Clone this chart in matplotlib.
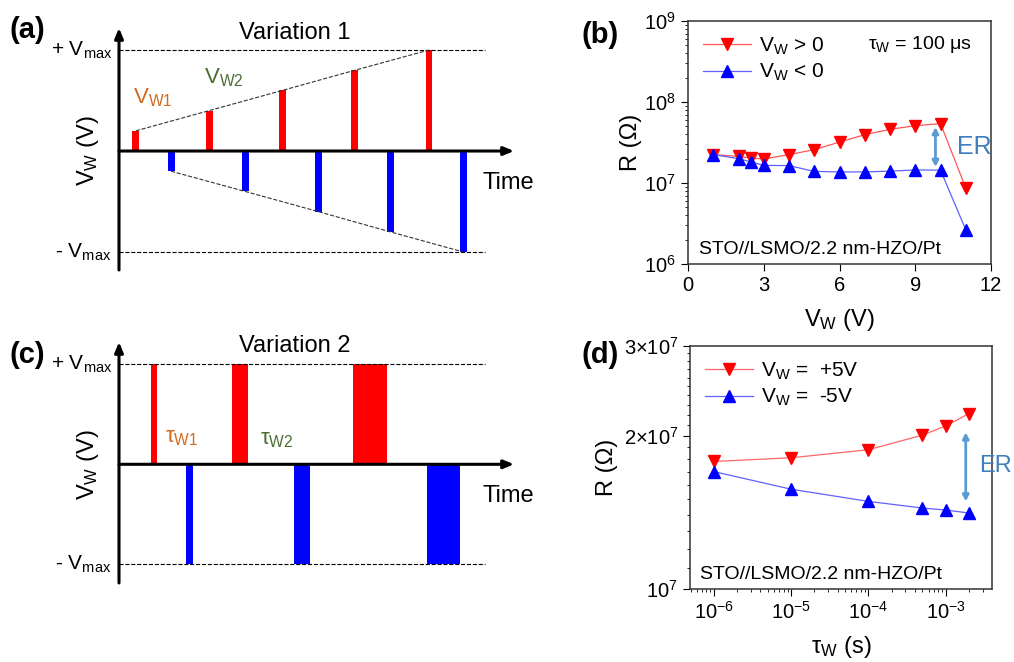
import numpy as np
import matplotlib.pyplot as plt
from matplotlib.ticker import FixedLocator, FixedFormatter, NullFormatter

plt.rcParams['font.family'] = ['Liberation Sans', 'DejaVu Sans']
plt.rcParams['mathtext.default'] = 'regular'

# ---- schematic (a): pulse amplitudes (in units of Vmax) ----
a_red_t = [0.46, 2.46, 4.46, 6.44, 8.46]
a_red_amp = [0.2, 0.4, 0.6, 0.8, 1.0]
a_blue_t = [1.42, 3.44, 5.44, 7.40, 9.40]
a_blue_amp = [0.2, 0.4, 0.6, 0.8, 1.0]

# ---- schematic (c): pulse start and width ----
c_red_t = [0.865, 3.09, 6.39]
c_red_w = [0.18, 0.44, 0.93]
c_blue_t = [1.82, 4.78, 8.40]
c_blue_w = [0.20, 0.44, 0.91]

# ---- (b) R vs Vw ----
vw = [1, 2, 2.5, 3, 4, 5, 6, 7, 8, 9, 10, 11]
r_pos = [2.24e7, 2.13e7, 2.03e7, 1.98e7, 2.24e7, 2.58e7, 3.2e7, 3.95e7, 4.6e7, 5.1e7, 5.4e7, 8.7e6]
r_neg = [2.24e7, 2.0e7, 1.82e7, 1.65e7, 1.64e7, 1.39e7, 1.37e7, 1.37e7, 1.40e7, 1.45e7, 1.44e7, 2.65e6]

# ---- (d) R vs tau_w ----
tau = [1e-6, 1e-5, 1e-4, 5e-4, 1e-3, 2e-3]
r_p5 = [1.78e7, 1.81e7, 1.877e7, 2.005e7, 2.09e7, 2.21e7]
r_m5 = [1.70e7, 1.57e7, 1.486e7, 1.442e7, 1.429e7, 1.41e7]

W, H = 1014, 662
fig = plt.figure(figsize=(W / 100, H / 100), dpi=100)

def px_axes(l, t, r, b):
    return fig.add_axes([l / W, 1 - b / H, (r - l) / W, (b - t) / H])

orange = '#D2691E'
green = '#4B6E32'
er_col = '#3F7FBF'
arr_col = '#5B9BD5'

def schematic(ax, ylim, title, xtitle_y):
    ax.set_xlim(0, 10.78)
    ax.set_ylim(*ylim)
    ax.axis('off')
    ax.annotate('', xy=(10.78, 0), xytext=(0, 0),
                arrowprops=dict(arrowstyle='-|>,head_length=0.6,head_width=0.25', lw=2.2, color='k',
                                shrinkA=0, shrinkB=0))
    ax.annotate('', xy=(0, ylim[1]), xytext=(0, ylim[0]),
                arrowprops=dict(arrowstyle='-|>,head_length=0.6,head_width=0.25', lw=2.2, color='k',
                                shrinkA=0, shrinkB=0))
    ax.plot([0, 10.0], [1, 1], ls='--', color='k', lw=0.8)
    ax.plot([0, 10.0], [-1, -1], ls='--', color='k', lw=0.8)
    ax.text(-0.18, 1.0, '+ V$_{max}$', ha='right', va='center', fontsize=15, clip_on=False)
    ax.text(-0.22, -1.0, '- V$_{max}$', ha='right', va='center', fontsize=15, clip_on=False)
    ax.text(-0.85, 0, 'V$_W$ (V)', rotation=90, ha='center', va='center', fontsize=17, clip_on=False)
    ax.text(9.93, -0.32, 'Time', ha='left', va='center', fontsize=17, clip_on=False)
    ax.text(4.8, xtitle_y, title, ha='center', va='center', fontsize=17)

# panel (a)
axa = px_axes(119, 28, 514, 270)
schematic(axa, (-1.178, 1.218), 'Variation 1', 1.17)
axa.bar(a_red_t, a_red_amp, width=0.19, color='red')
axa.bar(a_blue_t, [-v for v in a_blue_amp], width=0.19, color='blue')
axa.plot(a_red_t, a_red_amp, ls='--', color='#333333', lw=0.8)
axa.plot(a_blue_t, [-v for v in a_blue_amp], ls='--', color='#333333', lw=0.8)
axa.text(0.38, 0.53, 'V$_{W1}$', color=orange, fontsize=16, ha='left', va='center')
axa.text(2.32, 0.73, 'V$_{W2}$', color=green, fontsize=16, ha='left', va='center')

# panel (c)
axc = px_axes(119, 342, 514, 583)
schematic(axc, (-1.187, 1.223), 'Variation 2', 1.18)
axc.bar(c_red_t, [1] * len(c_red_t), width=c_red_w, align='edge', color='red')
axc.bar(c_blue_t, [-1] * len(c_blue_t), width=c_blue_w, align='edge', color='blue')
axc.text(1.25, 0.27, 'τ$_{W1}$', color=orange, fontsize=16, ha='left', va='center')
axc.text(3.85, 0.25, 'τ$_{W2}$', color=green, fontsize=16, ha='left', va='center')

def style_axes(ax):
    for s in ax.spines.values():
        s.set_linewidth(1.1)
        s.set_color('#333333')
    ax.tick_params(which='both', direction='out', labelsize=14.5, top=False, right=False)
    ax.tick_params(which='major', length=5)
    ax.tick_params(which='minor', length=2.5)

# panel (b)
axb = px_axes(688, 21, 991, 264)
axb.set_yscale('log')
axb.plot(vw, r_pos, color='#ff5555', lw=0.9, marker='v', ms=8, mfc='red', mec='red', label='V$_W$ > 0')
axb.plot(vw, r_neg, color='#6060ff', lw=0.9, marker='^', ms=8, mfc='blue', mec='blue', label='V$_W$ < 0')
axb.set_xlim(0, 12)
axb.set_ylim(1e6, 1e9)
axb.set_xticks([0, 3, 6, 9, 12])
axb.set_yticks([1e6, 1e7, 1e8, 1e9])
axb.set_yticklabels(['10$^6$', '10$^7$', '10$^8$', '10$^9$'])
style_axes(axb)
axb.set_xlabel('V$_W$ (V)', fontsize=17, labelpad=9)
axb.set_ylabel('R (Ω)', fontsize=17, labelpad=2)
axb.legend(loc='upper left', bbox_to_anchor=(0.0, 1.0), frameon=False, fontsize=15,
           handlelength=2.3, handletextpad=0.4, labelspacing=0.25, borderaxespad=0.3)
axb.text(7.13, 5.2e8, 'τ$_W$ = 100 μs', fontsize=14, ha='left', va='center')
axb.text(0.45, 1.53e6, 'STO//LSMO/2.2 nm-HZO/Pt', fontsize=14, ha='left', va='center')
axb.text(10.65, 2.78e7, 'ER', color=er_col, fontsize=18, ha='left', va='center', clip_on=False)
axb.annotate('', xy=(9.8, 4.9e7), xytext=(9.8, 1.58e7),
             arrowprops=dict(arrowstyle='<|-|>,head_length=0.35,head_width=0.18', color=arr_col, lw=2,
                             shrinkA=0, shrinkB=0))

# panel (d)
axd = px_axes(690, 346, 992, 589)
axd.set_xscale('log')
axd.set_yscale('log')
axd.plot(tau, r_p5, color='#ff6666', lw=0.9, marker='v', ms=8, mfc='red', mec='red', label='V$_W$ =  +5V')
axd.plot(tau, r_m5, color='#6060ff', lw=0.9, marker='^', ms=8, mfc='blue', mec='blue', label='V$_W$ =  -5V')
axd.set_xlim(10 ** -6.31, 10 ** -2.4)
axd.set_ylim(1e7, 3e7)
axd.set_xticks([1e-6, 1e-5, 1e-4, 1e-3])
axd.set_xticklabels(['10$^{-6}$', '10$^{-5}$', '10$^{-4}$', '10$^{-3}$'])
axd.yaxis.set_major_locator(FixedLocator([1e7, 2e7, 3e7]))
axd.yaxis.set_major_formatter(FixedFormatter(['10$^7$', '2×10$^7$', '3×10$^7$']))
axd.yaxis.set_minor_locator(FixedLocator(np.arange(1.1e7, 3e7, 1e6)))
axd.yaxis.set_minor_formatter(NullFormatter())
style_axes(axd)
axd.set_xlabel('τ$_W$ (s)', fontsize=17, labelpad=8)
axd.set_ylabel('R (Ω)', fontsize=17, labelpad=4)
axd.legend(loc='upper left', bbox_to_anchor=(0.0, 1.0), frameon=False, fontsize=15,
           handlelength=2.3, handletextpad=0.4, labelspacing=0.25, borderaxespad=0.3)
axd.text(6.6e-7, 1.067e7, 'STO//LSMO/2.2 nm-HZO/Pt', fontsize=14, ha='left', va='center')
axd.text(2.75e-3, 1.74e7, 'ER', color=er_col, fontsize=17, ha='left', va='center', clip_on=False)
axd.annotate('', xy=(1.82e-3, 2.03e7), xytext=(1.82e-3, 1.486e7),
             arrowprops=dict(arrowstyle='<|-|>,head_length=0.35,head_width=0.18', color=arr_col, lw=2,
                             shrinkA=0, shrinkB=0))

# panel letters
for lab, x, y in [('(a)', 27, 30), ('(b)', 600, 35), ('(c)', 27, 355), ('(d)', 600, 355)]:
    fig.text(x / W, 1 - y / H, lab, fontsize=21, fontweight='bold', ha='center', va='center')

fig.savefig('out.png', dpi=100)
